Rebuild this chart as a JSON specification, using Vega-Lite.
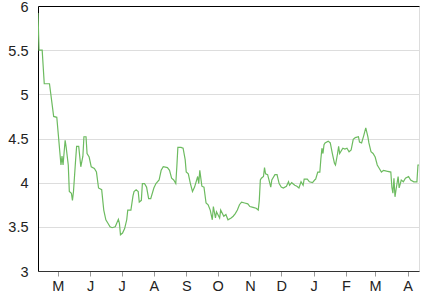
{
  "$schema": "https://vega.github.io/schema/vega-lite/v6.json",
  "width": 381,
  "height": 265,
  "autosize": {"type": "none"},
  "padding": {"left": 38, "top": 6, "right": 14, "bottom": 23},
  "background": "white",
  "config": {
    "view": {"stroke": "#dddddd"},
    "font": "Liberation Sans",
    "axis": {"labelFont": "Liberation Sans", "labelFontSize": 14.5, "labelColor": "#222222"}
  },
  "data": {"values": [
    {"d":"2012-04-12T00:00","v":5.92},{"d":"2012-04-13T00:00","v":5.5},{"d":"2012-04-16T00:00","v":5.5},{"d":"2012-04-18T00:00","v":5.12},
    {"d":"2012-04-23T00:00","v":5.12},{"d":"2012-04-27T00:00","v":4.75},{"d":"2012-04-30T00:00","v":4.74},{"d":"2012-05-04T00:00","v":4.2},
    {"d":"2012-05-05T00:00","v":4.3},{"d":"2012-05-06T00:00","v":4.2},{"d":"2012-05-08T00:00","v":4.48},{"d":"2012-05-09T00:00","v":4.4},
    {"d":"2012-05-11T00:00","v":4.2},{"d":"2012-05-12T00:00","v":3.9},{"d":"2012-05-14T00:00","v":3.88},{"d":"2012-05-15T00:00","v":3.8},
    {"d":"2012-05-16T00:00","v":3.9},{"d":"2012-05-18T00:00","v":4.25},{"d":"2012-05-19T00:00","v":4.41},{"d":"2012-05-21T00:00","v":4.41},
    {"d":"2012-05-23T00:00","v":4.18},{"d":"2012-05-25T00:00","v":4.3},{"d":"2012-05-26T00:00","v":4.52},{"d":"2012-05-28T00:00","v":4.52},
    {"d":"2012-05-29T00:00","v":4.33},{"d":"2012-05-31T00:00","v":4.29},{"d":"2012-06-02T00:00","v":4.18},{"d":"2012-06-05T00:00","v":4.16},
    {"d":"2012-06-07T00:00","v":4.12},{"d":"2012-06-09T00:00","v":3.94},{"d":"2012-06-12T00:00","v":3.92},{"d":"2012-06-14T00:00","v":3.69},
    {"d":"2012-06-16T00:00","v":3.58},{"d":"2012-06-18T00:00","v":3.54},{"d":"2012-06-20T00:00","v":3.5},{"d":"2012-06-22T00:00","v":3.49},
    {"d":"2012-06-25T00:00","v":3.5},{"d":"2012-06-28T00:00","v":3.585},{"d":"2012-06-29T00:00","v":3.54},{"d":"2012-06-30T00:00","v":3.41},
    {"d":"2012-07-02T00:00","v":3.43},{"d":"2012-07-04T00:00","v":3.48},{"d":"2012-07-06T00:00","v":3.58},{"d":"2012-07-07T00:00","v":3.69},
    {"d":"2012-07-10T00:00","v":3.69},{"d":"2012-07-12T00:00","v":3.85},{"d":"2012-07-13T00:00","v":3.9},{"d":"2012-07-15T00:00","v":3.92},
    {"d":"2012-07-17T00:00","v":3.9},{"d":"2012-07-18T00:00","v":3.78},{"d":"2012-07-20T00:00","v":3.8},{"d":"2012-07-21T00:00","v":3.99},
    {"d":"2012-07-23T00:00","v":3.99},{"d":"2012-07-25T00:00","v":3.95},{"d":"2012-07-27T00:00","v":3.82},{"d":"2012-07-29T00:00","v":3.82},
    {"d":"2012-08-01T00:00","v":3.94},{"d":"2012-08-03T00:00","v":3.99},{"d":"2012-08-06T00:00","v":4.03},{"d":"2012-08-08T00:00","v":4.14},
    {"d":"2012-08-10T00:00","v":4.18},{"d":"2012-08-14T00:00","v":4.17},{"d":"2012-08-16T00:00","v":4.14},{"d":"2012-08-18T00:00","v":4.05},
    {"d":"2012-08-20T00:00","v":4.03},{"d":"2012-08-22T00:00","v":3.99},{"d":"2012-08-23T00:00","v":4.18},{"d":"2012-08-24T00:00","v":4.4},
    {"d":"2012-08-27T00:00","v":4.4},{"d":"2012-08-29T00:00","v":4.39},{"d":"2012-08-31T00:00","v":4.26},{"d":"2012-09-01T00:00","v":4.12},
    {"d":"2012-09-03T00:00","v":4.1},{"d":"2012-09-05T00:00","v":3.99},{"d":"2012-09-07T00:00","v":3.9},{"d":"2012-09-09T00:00","v":3.95},
    {"d":"2012-09-12T00:00","v":4.07},{"d":"2012-09-13T00:00","v":3.99},{"d":"2012-09-14T00:00","v":4.14},{"d":"2012-09-16T00:00","v":3.96},
    {"d":"2012-09-18T00:00","v":3.95},{"d":"2012-09-20T00:00","v":3.77},{"d":"2012-09-22T00:00","v":3.75},{"d":"2012-09-24T00:00","v":3.69},
    {"d":"2012-09-26T00:00","v":3.58},{"d":"2012-09-27T00:00","v":3.73},{"d":"2012-09-29T00:00","v":3.6},{"d":"2012-09-30T00:00","v":3.67},
    {"d":"2012-10-03T00:00","v":3.6},{"d":"2012-10-04T00:00","v":3.69},{"d":"2012-10-07T00:00","v":3.62},{"d":"2012-10-09T00:00","v":3.64},
    {"d":"2012-10-11T00:00","v":3.58},{"d":"2012-10-14T00:00","v":3.6},{"d":"2012-10-16T00:00","v":3.62},{"d":"2012-10-18T00:00","v":3.65},
    {"d":"2012-10-20T00:00","v":3.69},{"d":"2012-10-22T00:00","v":3.75},{"d":"2012-10-24T00:00","v":3.78},{"d":"2012-10-27T00:00","v":3.77},
    {"d":"2012-10-30T00:00","v":3.76},{"d":"2012-11-01T00:00","v":3.73},{"d":"2012-11-04T00:00","v":3.72},{"d":"2012-11-07T00:00","v":3.71},
    {"d":"2012-11-09T00:00","v":3.69},{"d":"2012-11-10T00:00","v":3.8},{"d":"2012-11-11T00:00","v":4.03},{"d":"2012-11-12T00:00","v":4.05},
    {"d":"2012-11-14T00:00","v":4.07},{"d":"2012-11-15T00:00","v":4.17},{"d":"2012-11-16T00:00","v":4.1},{"d":"2012-11-18T00:00","v":4.09},
    {"d":"2012-11-21T00:00","v":3.95},{"d":"2012-11-22T00:00","v":4.03},{"d":"2012-11-25T00:00","v":4.09},{"d":"2012-11-27T00:00","v":4.09},
    {"d":"2012-11-29T00:00","v":3.99},{"d":"2012-12-01T00:00","v":3.95},{"d":"2012-12-03T00:00","v":3.94},{"d":"2012-12-06T00:00","v":3.96},
    {"d":"2012-12-08T00:00","v":4.01},{"d":"2012-12-09T00:00","v":3.97},{"d":"2012-12-11T00:00","v":4.0},{"d":"2012-12-14T00:00","v":3.97},
    {"d":"2012-12-16T00:00","v":3.96},{"d":"2012-12-18T00:00","v":3.94},{"d":"2012-12-20T00:00","v":4.01},{"d":"2012-12-22T00:00","v":3.97},
    {"d":"2012-12-23T00:00","v":4.04},{"d":"2012-12-26T00:00","v":4.04},{"d":"2012-12-28T00:00","v":4.01},{"d":"2012-12-31T00:00","v":4.0},
    {"d":"2013-01-02T00:00","v":4.03},{"d":"2013-01-03T00:00","v":4.04},{"d":"2013-01-05T00:00","v":4.12},{"d":"2013-01-07T00:00","v":4.12},
    {"d":"2013-01-08T00:00","v":4.27},{"d":"2013-01-09T00:00","v":4.39},{"d":"2013-01-10T00:00","v":4.33},{"d":"2013-01-11T00:00","v":4.43},
    {"d":"2013-01-12T00:00","v":4.45},{"d":"2013-01-15T00:00","v":4.47},{"d":"2013-01-17T00:00","v":4.45},{"d":"2013-01-19T00:00","v":4.33},
    {"d":"2013-01-21T00:00","v":4.22},{"d":"2013-01-22T00:00","v":4.2},{"d":"2013-01-24T00:00","v":4.33},{"d":"2013-01-25T00:00","v":4.41},
    {"d":"2013-01-26T00:00","v":4.33},{"d":"2013-01-29T00:00","v":4.39},{"d":"2013-01-31T00:00","v":4.38},{"d":"2013-02-02T00:00","v":4.39},
    {"d":"2013-02-04T00:00","v":4.35},{"d":"2013-02-06T00:00","v":4.37},{"d":"2013-02-08T00:00","v":4.49},{"d":"2013-02-10T00:00","v":4.51},
    {"d":"2013-02-13T00:00","v":4.52},{"d":"2013-02-14T00:00","v":4.46},{"d":"2013-02-16T00:00","v":4.45},{"d":"2013-02-18T00:00","v":4.53},
    {"d":"2013-02-20T00:00","v":4.62},{"d":"2013-02-22T00:00","v":4.52},{"d":"2013-02-23T00:00","v":4.45},{"d":"2013-02-25T00:00","v":4.35},
    {"d":"2013-02-27T00:00","v":4.33},{"d":"2013-03-01T00:00","v":4.29},{"d":"2013-03-03T00:00","v":4.2},{"d":"2013-03-05T00:00","v":4.16},
    {"d":"2013-03-07T00:00","v":4.12},{"d":"2013-03-09T00:00","v":4.14},{"d":"2013-03-12T00:00","v":4.13},{"d":"2013-03-16T00:00","v":4.12},
    {"d":"2013-03-17T00:00","v":3.95},{"d":"2013-03-18T00:00","v":3.88},{"d":"2013-03-19T00:00","v":4.05},{"d":"2013-03-20T00:00","v":3.84},
    {"d":"2013-03-21T00:00","v":3.92},{"d":"2013-03-23T00:00","v":4.07},{"d":"2013-03-24T00:00","v":3.94},{"d":"2013-03-26T00:00","v":4.03},
    {"d":"2013-03-28T00:00","v":4.01},{"d":"2013-03-30T00:00","v":4.05},{"d":"2013-04-02T00:00","v":4.07},{"d":"2013-04-04T00:00","v":4.03},
    {"d":"2013-04-07T00:00","v":4.01},{"d":"2013-04-10T00:00","v":4.01},{"d":"2013-04-11T00:00","v":4.2},{"d":"2013-04-12T00:00","v":4.2}
  ]},
  "mark": {"type": "line", "color": "#6dbb60", "strokeWidth": 1.2, "clip": true},
  "encoding": {
    "x": {
      "field": "d", "type": "temporal", "title": null,
      "scale": {"domain": [{"year": 2012, "month": 4, "date": 12}, {"year": 2013, "month": 4, "date": 12}]},
      "axis": {
        "tickCount": {"interval": "month", "step": 1},
        "labelExpr": "substring(timeFormat(datum.value, '%b'), 0, 1)",
        "labelFlush": false, "labelOverlap": false,
        "grid": false, "domainColor": "#333333", "tickColor": "#999999", "tickSize": 5,
        "labelPadding": 3
      }
    },
    "y": {
      "field": "v", "type": "quantitative", "title": null,
      "scale": {"domain": [3, 6], "nice": false, "zero": false},
      "axis": {
        "values": [3, 3.5, 4, 4.5, 5, 5.5, 6],
        "format": "~g",
        "tickSize": 0, "labelPadding": 10, "domainColor": "#000000",
        "labelBaseline": "middle", "labelOffset": 1,
        "gridColor": {"condition": {"test": "datum.value === 6", "value": "#000000"}, "value": "#dddddd"}
      }
    }
  }
}
